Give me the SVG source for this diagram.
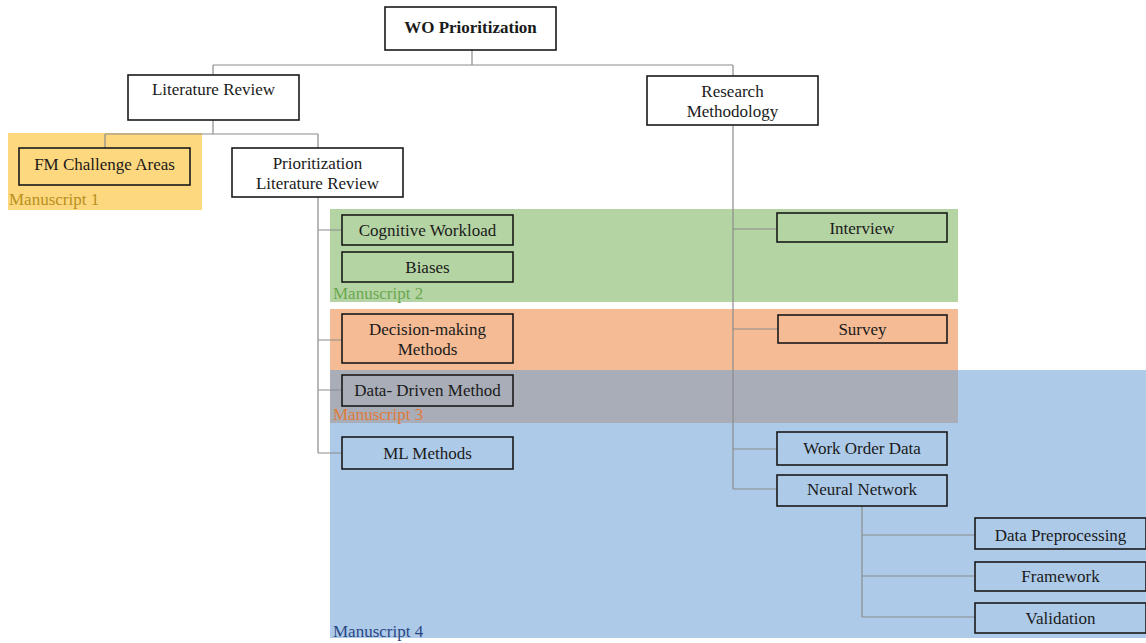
<svg xmlns="http://www.w3.org/2000/svg" width="1146" height="643" viewBox="0 0 1146 643">
<style>
.box{fill:none;stroke:#1a1a1a;stroke-width:1.6}
.wbox{fill:#fff;stroke:#1a1a1a;stroke-width:1.6}
.t{font-family:"Liberation Serif","Times New Roman",serif;font-size:17px;fill:#1a1a1a;text-anchor:middle}
.lbl{font-family:"Liberation Serif","Times New Roman",serif;font-size:17px}
.c{fill:none;stroke:#8c8c8c;stroke-width:1.2}
</style>
<rect width="1146" height="643" fill="#fff"/>
<g id="regions">
<rect x="8" y="133" width="194" height="77" fill="#fdd87f"/>
<rect x="330" y="209" width="628" height="93" fill="#b5d4a4"/>
<rect x="330" y="370" width="816" height="268" fill="#adcbe9"/>
<rect x="330" y="309" width="628" height="61" fill="#f5bb95"/>
<rect x="330" y="370" width="628" height="53" fill="#a9adb8"/>
<text class="lbl" x="9" y="205" fill="#b8901c">Manuscript 1</text>
<text class="lbl" x="333" y="299" fill="#6aa84f">Manuscript 2</text>
<text class="lbl" x="333" y="420" fill="#e07b39">Manuscript 3</text>
<text class="lbl" x="333" y="637" fill="#2b4685">Manuscript 4</text>
</g>
<g id="connectors">
<path class="c" d="M472 50V65M213 65H733M213 65V75M733 65V76"/>
<path class="c" d="M213 120V134M105 134H318M105 134V148M318 134V148"/>
<path class="c" d="M318 197V453M318 230H342M318 340H342M318 390H342M318 453H342"/>
<path class="c" d="M733 125V489M733 229H777M733 329H778M733 449H777M733 489H777"/>
<path class="c" d="M862 506V617M862 535H975M862 576H975M862 617H975"/>
</g>
<g id="wo"><rect class="wbox" x="385" y="7" width="171" height="43"/><text class="t" x="470.5" y="33" font-weight="bold">WO Prioritization</text></g>
<g id="lit"><rect class="wbox" x="128" y="75" width="171" height="45"/><text class="t" x="213.5" y="95">Literature Review</text></g>
<g id="rm"><rect class="wbox" x="647" y="76" width="171" height="49"/><text class="t" x="732.5" y="97">Research</text><text class="t" x="732.5" y="117">Methodology</text></g>
<g id="fm"><rect class="box" x="19" y="148" width="171" height="37"/><text class="t" x="104.5" y="170">FM Challenge Areas</text></g>
<g id="plr"><rect class="wbox" x="232" y="148" width="171" height="49"/><text class="t" x="317.5" y="169">Prioritization</text><text class="t" x="317.5" y="189">Literature Review</text></g>
<g id="cog"><rect class="box" x="342" y="215" width="171" height="30"/><text class="t" x="427.5" y="236">Cognitive Workload</text></g>
<g id="bias"><rect class="box" x="342" y="252" width="171" height="30"/><text class="t" x="427.5" y="273">Biases</text></g>
<g id="dm"><rect class="box" x="342" y="314" width="171" height="49"/><text class="t" x="427.5" y="335">Decision-making</text><text class="t" x="427.5" y="355">Methods</text></g>
<g id="dd"><rect class="box" x="342" y="375" width="171" height="31"/><text class="t" x="427.5" y="396">Data- Driven Method</text></g>
<g id="ml"><rect class="box" x="342" y="437" width="171" height="32"/><text class="t" x="427.5" y="459">ML Methods</text></g>
<g id="int"><rect class="box" x="777" y="213" width="170" height="29"/><text class="t" x="862" y="234">Interview</text></g>
<g id="sur"><rect class="box" x="778" y="315" width="169" height="28"/><text class="t" x="862.5" y="335">Survey</text></g>
<g id="wod"><rect class="box" x="777" y="432" width="170" height="33"/><text class="t" x="862" y="454">Work Order Data</text></g>
<g id="nn"><rect class="box" x="777" y="475" width="170" height="31"/><text class="t" x="862" y="495">Neural Network</text></g>
<g id="dp"><rect class="box" x="975" y="518" width="171" height="31"/><text class="t" x="1060.5" y="541">Data Preprocessing</text></g>
<g id="fw"><rect class="box" x="975" y="562" width="171" height="29"/><text class="t" x="1060.5" y="582">Framework</text></g>
<g id="val"><rect class="box" x="975" y="603" width="171" height="30"/><text class="t" x="1060.5" y="624">Validation</text></g>
</svg>
